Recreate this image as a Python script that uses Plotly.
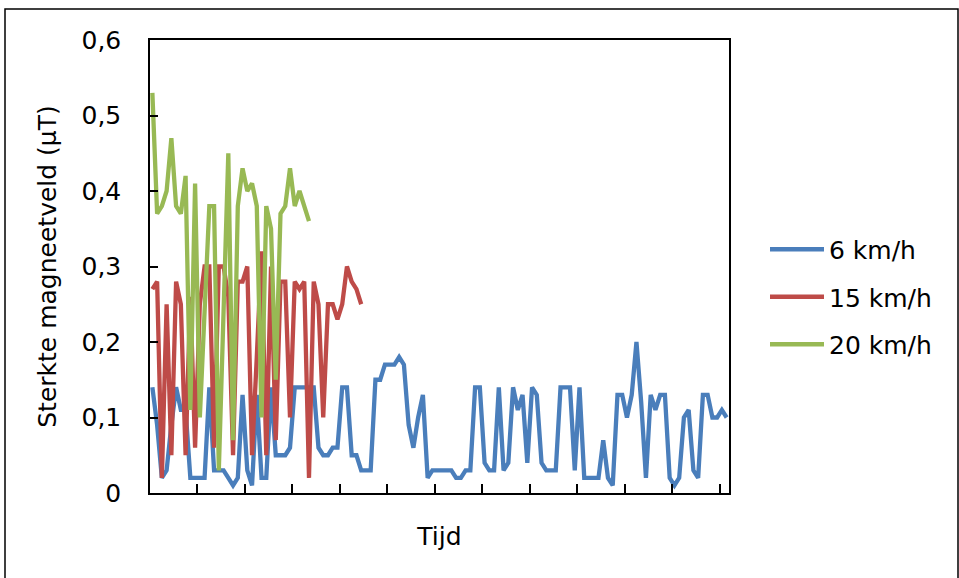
import plotly.graph_objects as go

series_names = ["6 km/h", "15 km/h", "20 km/h"]

blue_6kmh = [0.14,0.09,0.02,0.03,0.09,0.14,0.11,0.11,0.02,0.02,0.02,0.02,0.14,0.03,0.03,0.03,0.02,0.01,0.02,0.13,
             0.03,0.01,0.13,0.02,0.02,0.14,0.05,0.05,0.05,0.06,0.14,0.14,0.14,0.14,0.14,0.06,0.05,0.05,0.06,0.06,
             0.14,0.14,0.05,0.05,0.03,0.03,0.03,0.15,0.15,0.17,0.17,0.17,0.18,0.17,0.09,0.06,0.10,0.13,0.02,0.03,
             0.03,0.03,0.03,0.03,0.02,0.02,0.03,0.03,0.14,0.14,0.04,0.03,0.03,0.14,0.03,0.04,0.14,0.11,0.13,0.04,
             0.14,0.13,0.04,0.03,0.03,0.03,0.14,0.14,0.14,0.03,0.14,0.02,0.02,0.02,0.02,0.07,0.02,0.01,0.13,0.13,
             0.10,0.13,0.20,0.12,0.02,0.13,0.11,0.13,0.13,0.02,0.01,0.02,0.10,0.11,0.03,0.02,0.13,0.13,0.10,0.10,
             0.11,0.10]

red_15kmh = [0.27,0.28,0.02,0.25,0.05,0.28,0.25,0.05,0.26,0.06,0.25,0.30,0.30,0.06,0.30,0.30,0.26,0.05,0.28,0.28,
             0.30,0.05,0.18,0.32,0.05,0.30,0.07,0.28,0.28,0.10,0.28,0.27,0.28,0.02,0.28,0.25,0.10,0.25,0.25,0.23,
             0.25,0.30,0.28,0.27,0.25]

green_20kmh = [0.53,0.37,0.38,0.40,0.47,0.38,0.37,0.42,0.11,0.41,0.10,0.24,0.38,0.38,0.03,0.24,0.45,0.07,0.38,0.43,
               0.40,0.41,0.38,0.10,0.38,0.35,0.15,0.37,0.38,0.43,0.38,0.40,0.38,0.36]

y_tick_vals = [0, 0.1, 0.2, 0.3, 0.4, 0.5, 0.6]
y_tick_text = ["0", "0,1", "0,2", "0,3", "0,4", "0,5", "0,6"]
n_categories = 122
x_tick_every = 10

colors = ["#4A7EBB", "#BE4B48", "#98B954"]
FONT = "Verdana, DejaVu Sans, sans-serif"

fig = go.Figure()
for name, vals, col in zip(series_names, [blue_6kmh, red_15kmh, green_20kmh], colors):
    fig.add_trace(go.Scatter(
        x=list(range(1, len(vals) + 1)), y=vals, mode="lines", name=name,
        legendgroup=name,
        line=dict(color=col, width=4.3),
    ))

L, R, T, B = 150, 230, 40, 85
W, H = 959, 578
pw, ph = W - L - R, H - T - B

def px_x(p):
    return (p - L) / pw

def px_y(p):
    return (H - B - p) / ph

fig.update_layout(
    width=W, height=H,
    margin=dict(l=L, r=R, t=T, b=B, autoexpand=False),
    paper_bgcolor="white", plot_bgcolor="white",
    font=dict(family=FONT, size=25, color="black"),
    showlegend=True,
    legend=dict(
        x=px_x(765), y=px_y(297), xanchor="left", yanchor="middle",
        font=dict(size=25, family=FONT, color="black"),
        tracegroupgap=12, itemwidth=54,
        bgcolor="rgba(0,0,0,0)",
    ),
    xaxis=dict(
        range=[0.5, n_categories + 0.5],
        tickvals=[0.5 + k * x_tick_every for k in range(n_categories // x_tick_every + 1)],
        showticklabels=False,
        ticks="inside", ticklen=9, tickwidth=1.5, tickcolor="black",
        showline=True, linecolor="black", linewidth=1.5, mirror=True,
        showgrid=False, zeroline=False,
        title=dict(text="Tijd", font=dict(size=25, family=FONT), standoff=34),
    ),
    yaxis=dict(
        range=[0, 0.6],
        tickvals=y_tick_vals, ticktext=y_tick_text,
        ticks="inside", ticklen=8, tickwidth=1.5, tickcolor="black",
        ticklabelstandoff=22,
        tickfont=dict(size=25, family=FONT),
        showline=True, linecolor="black", linewidth=1.5, mirror=True,
        showgrid=False, zeroline=False,
        title=dict(text="Sterkte magneetveld (µT)", font=dict(size=25, family=FONT), standoff=18),
    ),
    shapes=[dict(
        type="rect", xref="paper", yref="paper",
        x0=px_x(5), x1=px_x(958), y0=px_y(582), y1=px_y(9),
        line=dict(color="black", width=1.5), fillcolor="rgba(0,0,0,0)", layer="below",
    )],
)

fig.write_html("out.html", config={"displayModeBar": False},
               post_script="document.body.style.margin='0';")
